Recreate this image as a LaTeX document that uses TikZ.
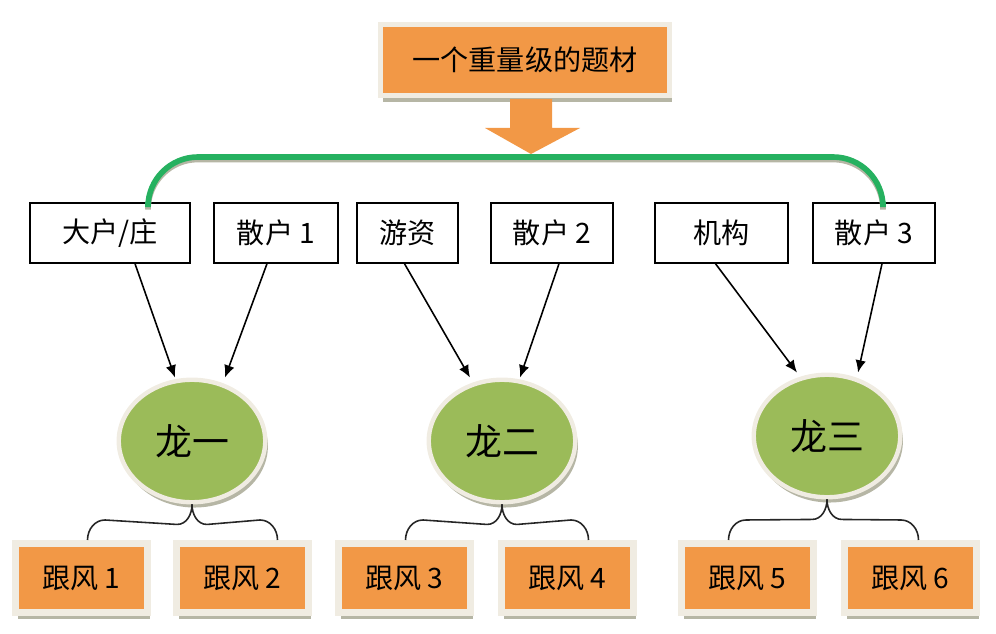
\documentclass[tikz,border=0pt]{standalone}
\usepackage{fontspec}
\setmainfont{Noto Sans CJK SC}
\usetikzlibrary{arrows.meta,shapes.geometric,shadows,calc}
\definecolor{orangefill}{RGB}{242,152,70}
\definecolor{greenfill}{RGB}{155,187,89}
\definecolor{greenline}{RGB}{38,177,96}
\definecolor{framecol}{RGB}{240,236,226}
\definecolor{shadowcol}{RGB}{182,182,165}
\begin{document}
\begin{tikzpicture}[every node/.style = {align=center, font=\fontsize{16}{18}\selectfont},
  topic/.style = {fill=orangefill, draw=framecol, line width=3pt, minimum width=5.78cm, minimum height=1.42cm,
    drop shadow={shadow xshift=1.5pt, shadow yshift=-3.5pt, fill=shadowcol, opacity=1}},
  player/.style = {draw, line width=0.8pt, fill=white, minimum height=1.2cm},
  dragon/.style = {ellipse, fill=greenfill, draw=framecol, line width=2.5pt, minimum width=2.93cm, minimum height=2.45cm,
    font=\fontsize{21}{24}\selectfont, drop shadow={shadow xshift=1.5pt, shadow yshift=-3pt, fill=shadowcol, opacity=1}},
  follower/.style = {fill=orangefill, draw=framecol, line width=4pt, minimum width=2.64cm, minimum height=1.38cm,
    drop shadow={shadow xshift=1.5pt, shadow yshift=-3.5pt, fill=shadowcol, opacity=1}},
  feed/.style = {-{Latex[length=7pt,width=6pt]}, line width=0.9pt},
  link/.style = {line width=0.9pt, draw=black!85}]

  \useasboundingbox (0,0) rectangle (19.92,-12.68);

  \node[topic] (topic) at (10.5,-1.2) {一个重量级的题材};
  \fill[orangefill] (10.2,-1.98) -- (11.04,-1.98) -- (11.04,-2.56) -- (11.6,-2.56)
    -- (10.62,-3.08) -- (9.7,-2.56) -- (10.2,-2.56) -- cycle;
  \coordinate (tip) at (10.62,-3.14);

  \node[player, minimum width=3.2cm]  (dahu)   at (2.2,-4.66)   {大户/庄};
  \node[player, minimum width=2.48cm] (sanhu1) at (5.52,-4.66)  {散户 1};
  \node[player, minimum width=2.02cm] (youzi)  at (8.15,-4.66)  {游资};
  \node[player, minimum width=2.44cm] (sanhu2) at (11.04,-4.66) {散户 2};
  \node[player, minimum width=2.66cm] (jigou)  at (14.43,-4.66) {机构};
  \node[player, minimum width=2.44cm] (sanhu3) at (17.48,-4.66) {散户 3};

  \draw[shadowcol, line width=3.2pt, rounded corners=1cm]
    ([xshift=0.76cm,yshift=-0.05cm]dahu.north) |- ([yshift=-0.05cm]tip) -| ([xshift=0.18cm,yshift=-0.05cm]sanhu3.north);
  \draw[greenline, line width=3.2pt, rounded corners=1cm]
    ([xshift=0.76cm]dahu.north) |- (tip) -| ([xshift=0.18cm]sanhu3.north);

  \node[dragon] (long1) at (3.84,-8.82)  {龙一};
  \node[dragon] (long2) at (10.04,-8.82) {龙二};
  \node[dragon] (long3) at (16.54,-8.72) {龙三};

  \draw[feed] ([xshift=0.5cm]dahu.south)    -- ([xshift=-0.34cm]long1.north);
  \draw[feed] ([xshift=-0.18cm]sanhu1.south) -- ([xshift=0.66cm]long1.north);
  \draw[feed] ([xshift=-0.06cm]youzi.south)  -- ([xshift=-0.64cm]long2.north);
  \draw[feed] ([xshift=0.14cm]sanhu2.south)  -- ([xshift=0.36cm]long2.north);
  \draw[feed] ([xshift=-0.12cm]jigou.south)  -- ([xshift=-0.6cm]long3.north);
  \draw[feed] ([xshift=0.16cm]sanhu3.south)  -- ([xshift=0.62cm]long3.north);

  \node[follower] (gf1) at (1.63,-11.56)  {跟风 1};
  \node[follower] (gf2) at (4.85,-11.56)  {跟风 2};
  \node[follower] (gf3) at (8.09,-11.56)  {跟风 3};
  \node[follower] (gf4) at (11.35,-11.56) {跟风 4};
  \node[follower] (gf5) at (14.95,-11.56) {跟风 5};
  \node[follower] (gf6) at (18.21,-11.56) {跟风 6};

  \draw[link] ([xshift=0.12cm]gf1.north) to[out=90,in=180] ++(0.35,0.4) -- ($(long1.south)+(-0.3,-0.4)$) to[out=0,in=-90] (long1.south);
  \draw[link] ([xshift=0.7cm]gf2.north)  to[out=90,in=0] ++(-0.35,0.4) -- ($(long1.south)+(0.3,-0.4)$) to[out=180,in=-90] (long1.south);
  \draw[link] ([xshift=0.02cm]gf3.north) to[out=90,in=180] ++(0.35,0.4) -- ($(long2.south)+(-0.3,-0.4)$) to[out=0,in=-90] (long2.south);
  \draw[link] ([xshift=0.42cm]gf4.north) to[out=90,in=0] ++(-0.35,0.4) -- ($(long2.south)+(0.3,-0.4)$) to[out=180,in=-90] (long2.south);
  \draw[link] ([xshift=-0.38cm]gf5.north) to[out=90,in=180] ++(0.35,0.4) -- ($(long3.south)+(-0.3,-0.4)$) to[out=0,in=-90] (long3.south);
  \draw[link] ([xshift=0.16cm]gf6.north) to[out=90,in=0] ++(-0.35,0.4) -- ($(long3.south)+(0.3,-0.4)$) to[out=180,in=-90] (long3.south);

\end{tikzpicture}
\end{document}
